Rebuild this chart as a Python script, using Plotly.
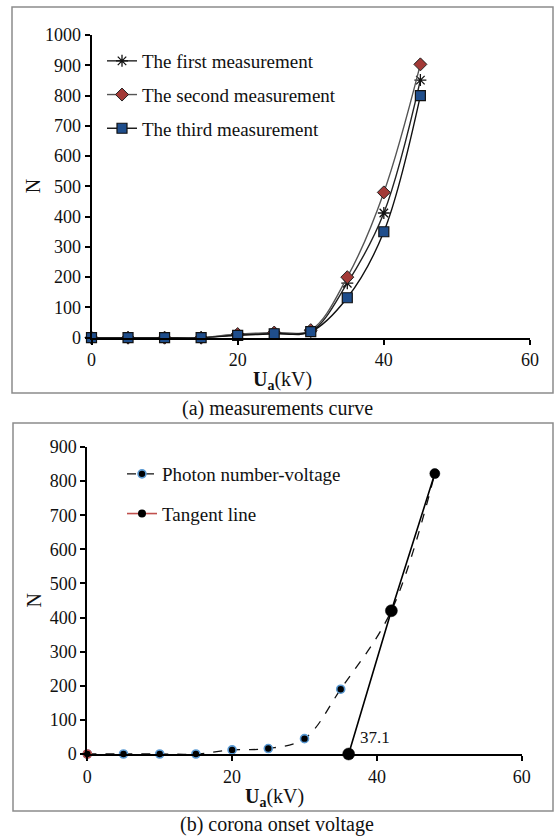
import plotly.graph_objects as go

# ---------- data ----------
voltage_a = [0, 5, 10, 15, 20, 25, 30, 35, 40, 45]
first_meas = [0, 0, 0, 0, 10, 15, 20, 180, 412, 851]
second_meas = [0, 0, 0, 0, 12, 17, 25, 200, 480, 903]
third_meas = [0, 0, 0, 0, 8, 13, 20, 132, 350, 800]

voltage_b = [0, 5, 10, 15, 20, 25, 30, 35, 42, 48]
photon_n = [0, 0, 0, 0, 12, 16, 45, 190, 420, 822]
tangent_x = [36.1, 42, 48]
tangent_y = [0, 420, 822]
origin_x = [0]
origin_y = [0]
onset_label = "37.1"

W, H = 555, 836
FONT = "Times New Roman, Liberation Serif, serif"

fig = go.Figure()

# ---------- panel (a) ----------
fig.add_trace(go.Scatter(x=voltage_a, y=first_meas, name="The first measurement",
                         mode="lines+markers", line=dict(color="#222222", width=1.4, shape="spline"),
                         marker=dict(symbol="asterisk-open", size=10, color="#111111",
                                     line=dict(color="#111111", width=1.3)),
                         xaxis="x", yaxis="y", legend="legend", legendgroup="a1", cliponaxis=False))
fig.add_trace(go.Scatter(x=voltage_a, y=second_meas, name="The second measurement",
                         mode="lines+markers", line=dict(color="#555555", width=1.4, shape="spline"),
                         marker=dict(symbol="diamond", size=10, color="#A33A37",
                                     line=dict(color="#222222", width=1)),
                         xaxis="x", yaxis="y", legend="legend", legendgroup="a2", cliponaxis=False))
fig.add_trace(go.Scatter(x=voltage_a, y=third_meas, name="The third measurement",
                         mode="lines+markers", line=dict(color="#111111", width=1.4, shape="spline"),
                         marker=dict(symbol="square", size=10, color="#1F4E8C",
                                     line=dict(color="#111111", width=1.2)),
                         xaxis="x", yaxis="y", legend="legend", legendgroup="a3", cliponaxis=False))

# ---------- panel (b) ----------
fig.add_trace(go.Scatter(x=voltage_b, y=photon_n, name="Photon number-voltage",
                         mode="lines+markers", line=dict(color="#111111", width=1.3, dash="dash", shape="spline"),
                         marker=dict(symbol="circle", size=8, color="#000000",
                                     line=dict(color="#5B9BD5", width=1.6)),
                         xaxis="x2", yaxis="y2", legend="legend2", legendgroup="b1", cliponaxis=False))
fig.add_trace(go.Scatter(x=origin_x, y=origin_y, mode="markers", showlegend=False,
                         marker=dict(symbol="circle", size=8, color="#000000",
                                     line=dict(color="#C0504D", width=1.6)),
                         xaxis="x2", yaxis="y2", cliponaxis=False))
fig.add_trace(go.Scatter(x=tangent_x, y=tangent_y, name="Tangent line",
                         mode="lines+markers", line=dict(color="#000000", width=1.6),
                         marker=dict(symbol="circle", size=[12, 12, 10], color="#000000", opacity=1,
                                     line=dict(color="#000000", width=0.5)),
                         xaxis="x2", yaxis="y2", showlegend=False, cliponaxis=False))
# legend entry for the tangent line (as shown in the reference legend)
fig.add_trace(go.Scatter(x=[None], y=[None], name="Tangent line",
                         mode="lines+markers", line=dict(color="#C0504D", width=1.6),
                         marker=dict(symbol="circle", size=8, color="#000000"),
                         xaxis="x2", yaxis="y2", legend="legend2", legendgroup="b2"))

axis_common = dict(showgrid=False, zeroline=False, showline=True, linecolor="#000000", linewidth=2,
                   ticks="outside", ticklen=5, tickwidth=1.5, tickcolor="#000000", automargin=False,
                   tickfont=dict(family=FONT, size=18, color="#111111"))

xtitle = "<b>U</b><sub><b>a</b></sub>(kV)"

xa_dom = [91.5 / W, 530 / W]
ya_dom = [(H - 337.7) / H, (H - 35) / H]
xb_dom = [87.3 / W, 521.7 / W]
yb_dom = [(H - 754) / H, (H - 447) / H]

fig.update_layout(
    width=W, height=H, margin=dict(l=0, r=0, t=0, b=0, autoexpand=False),
    paper_bgcolor="white", plot_bgcolor="white",
    font=dict(family=FONT, color="#111111"),
    xaxis=dict(axis_common, domain=xa_dom, range=[0, 60], dtick=20, anchor="y"),
    yaxis=dict(axis_common, domain=ya_dom, range=[0, 1000], dtick=100, anchor="x"),
    xaxis2=dict(axis_common, domain=xb_dom, range=[0, 60], dtick=20, anchor="y2"),
    yaxis2=dict(axis_common, domain=yb_dom, range=[0, 900], dtick=100, anchor="x2"),
    legend=dict(x=102 / W, y=(H - 42) / H, xanchor="left", yanchor="top",
                font=dict(family=FONT, size=19, color="#111111"), bgcolor="rgba(0,0,0,0)",
                tracegroupgap=6, itemwidth=30),
    legend2=dict(x=122 / W, y=(H - 455) / H, xanchor="left", yanchor="top",
                 font=dict(family=FONT, size=19, color="#111111"), bgcolor="rgba(0,0,0,0)",
                 tracegroupgap=12, itemwidth=30),
    shapes=[
        dict(type="rect", xref="paper", yref="paper", x0=12 / W, x1=553 / W,
             y0=(H - 393) / H, y1=(H - 7) / H, line=dict(color="#8C8C8C", width=1.5)),
        dict(type="rect", xref="paper", yref="paper", x0=13 / W, x1=553 / W,
             y0=(H - 811) / H, y1=(H - 423) / H, line=dict(color="#8C8C8C", width=1.5)),
    ],
    annotations=[
        # axis titles
        dict(text=xtitle, xref="paper", yref="paper", x=282 / W, y=(H - 380) / H, showarrow=False,
             font=dict(family=FONT, size=20, color="#111111"), xanchor="center", yanchor="middle"),
        dict(text="N", xref="paper", yref="paper", x=33 / W, y=(ya_dom[0] + ya_dom[1]) / 2, showarrow=False,
             textangle=-90, font=dict(family=FONT, size=20, color="#111111"), xanchor="center", yanchor="middle"),
        dict(text=xtitle, xref="paper", yref="paper", x=274 / W, y=(H - 797) / H, showarrow=False,
             font=dict(family=FONT, size=20, color="#111111"), xanchor="center", yanchor="middle"),
        dict(text="N", xref="paper", yref="paper", x=33 / W, y=(yb_dom[0] + yb_dom[1]) / 2, showarrow=False,
             textangle=-90, font=dict(family=FONT, size=20, color="#111111"), xanchor="center", yanchor="middle"),
        # captions
        dict(text="(a) measurements curve", xref="paper", yref="paper", x=277 / W, y=(H - 408) / H,
             showarrow=False, font=dict(family=FONT, size=20, color="#111111"), xanchor="center", yanchor="middle"),
        dict(text="(b) corona onset voltage", xref="paper", yref="paper", x=277 / W, y=(H - 824) / H,
             showarrow=False, font=dict(family=FONT, size=20, color="#111111"), xanchor="center", yanchor="middle"),
        # onset voltage label
        dict(text=onset_label, xref="x2", yref="y2", x=39.8, y=47, showarrow=False,
             font=dict(family=FONT, size=17, color="#111111"), xanchor="center", yanchor="middle"),
    ],
)

fig.write_html("out.html")
